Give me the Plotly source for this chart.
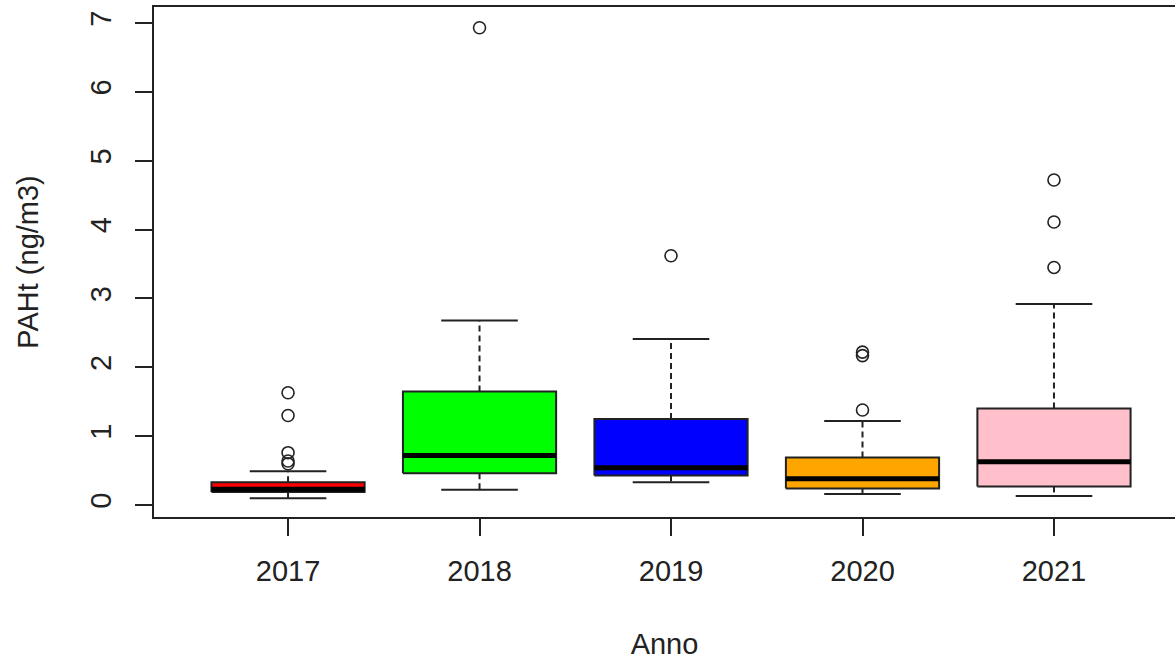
import plotly.graph_objects as go

# Annual PAHt concentration summaries (ng/m3)
years = ["2017", "2018", "2019", "2020", "2021"]
q1 = [0.19, 0.46, 0.43, 0.24, 0.27]
median = [0.23, 0.72, 0.54, 0.38, 0.63]
q3 = [0.33, 1.65, 1.25, 0.69, 1.40]
whisker_low = [0.10, 0.22, 0.33, 0.16, 0.13]
whisker_high = [0.49, 2.68, 2.41, 1.22, 2.92]
outliers = [
    [1.63, 1.30, 0.76, 0.64, 0.60],
    [6.93],
    [3.62],
    [2.22, 2.17, 1.38],
    [4.72, 4.11, 3.45],
]
fill_colors = ["#FF0000", "#00FF00", "#0000FF", "#FFA500", "#FFC0CB"]

y_ticks = [0, 1, 2, 3, 4, 5, 6, 7]

BOX_HALF = 0.4
CAP_HALF = 0.2
FONT = "Liberation Sans, Arial, sans-serif"
INK = "#222222"

fig = go.Figure()

for i, year in enumerate(years):
    pos = i + 1
    # filled box from Q1 to Q3
    fig.add_trace(go.Scatter(
        x=[pos - BOX_HALF, pos + BOX_HALF, pos + BOX_HALF, pos - BOX_HALF, pos - BOX_HALF],
        y=[q1[i], q1[i], q3[i], q3[i], q1[i]],
        mode="lines", fill="toself", fillcolor=fill_colors[i],
        line=dict(color=INK, width=2), hoverinfo="skip", showlegend=False,
    ))
    # dashed whiskers
    fig.add_trace(go.Scatter(
        x=[pos, pos, None, pos, pos],
        y=[q3[i], whisker_high[i], None, q1[i], whisker_low[i]],
        mode="lines", line=dict(color=INK, width=2, dash="6px,4px"),
        hoverinfo="skip", showlegend=False,
    ))
    # whisker caps
    fig.add_trace(go.Scatter(
        x=[pos - CAP_HALF, pos + CAP_HALF, None, pos - CAP_HALF, pos + CAP_HALF],
        y=[whisker_high[i], whisker_high[i], None, whisker_low[i], whisker_low[i]],
        mode="lines", line=dict(color=INK, width=2),
        hoverinfo="skip", showlegend=False,
    ))
    # median bar
    fig.add_trace(go.Scatter(
        x=[pos - BOX_HALF, pos + BOX_HALF],
        y=[median[i], median[i]],
        mode="lines", line=dict(color="#000000", width=5),
        hoverinfo="skip", showlegend=False,
    ))
    # outlying values
    fig.add_trace(go.Scatter(
        x=[pos] * len(outliers[i]), y=outliers[i],
        mode="markers",
        marker=dict(symbol="circle-open", size=12, color=INK, line=dict(width=1.6, color=INK)),
        name=year, showlegend=False,
    ))

axis_font = dict(family=FONT, size=29, color=INK)

fig.update_layout(
    width=1175, height=663,
    margin=dict(l=154, r=0, t=7, b=146),
    paper_bgcolor="white", plot_bgcolor="white",
    font=dict(family=FONT, size=29, color=INK),
    xaxis=dict(
        range=[0.3, 5.632],
        tickvals=list(range(1, len(years) + 1)), ticktext=years,
        ticks="outside", ticklen=17, tickwidth=1.5, tickcolor=INK,
        showline=True, mirror=True, linewidth=2, linecolor=INK,
        showgrid=False, zeroline=False,
        tickfont=axis_font, ticklabelstandoff=10,
        title=dict(text="Anno", font=axis_font, standoff=48),
    ),
    yaxis=dict(
        range=[-0.174, 7.232],
        tickvals=y_ticks, ticktext=[str(v) for v in y_ticks],
        tickangle=-90,
        ticks="outside", ticklen=17, tickwidth=1.5, tickcolor=INK,
        showline=True, mirror=False, linewidth=2, linecolor=INK,
        showgrid=False, zeroline=False,
        tickfont=axis_font, ticklabelstandoff=12,
        title=dict(text="PAHt (ng/m3)", font=axis_font, standoff=38),
    ),
)

fig.write_html("out.html")
